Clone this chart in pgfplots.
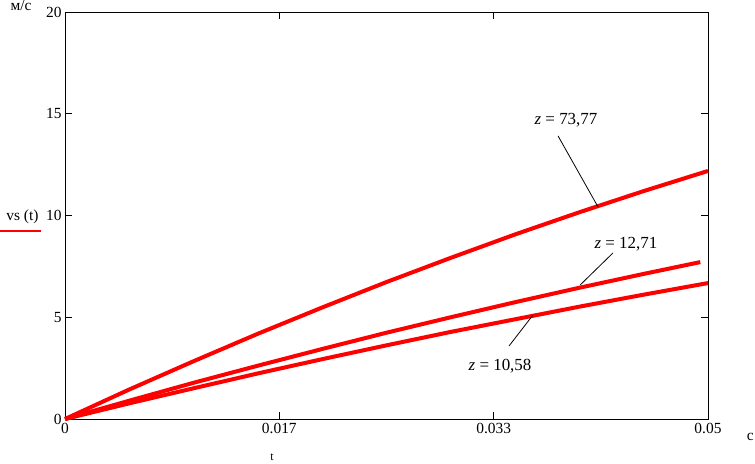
\documentclass[border=0pt]{standalone}
\usepackage{fontspec}
\setmainfont{Liberation Serif}
\usepackage{pgfplots}
\pgfplotsset{compat=1.18}
\usetikzlibrary{calc}

% speed curves vs(t) for three values of z
\pgfplotstableread{
t      v
0      0
0.005  1.45
0.010  2.84
0.015  4.19
0.020  5.48
0.025  6.73
0.030  7.92
0.035  9.07
0.040  10.16
0.045  11.20
0.050  12.19
}\zA
\pgfplotstableread{
t      v
0      0
0.005  0.90
0.010  1.78
0.015  2.62
0.020  3.44
0.025  4.24
0.030  5.00
0.035  5.74
0.040  6.45
0.045  7.13
0.0494 7.71
}\zB
\pgfplotstableread{
t      v
0      0
0.005  0.77
0.010  1.51
0.015  2.24
0.020  2.94
0.025  3.62
0.030  4.28
0.035  4.90
0.040  5.52
0.045  6.11
0.050  6.68
}\zC

\begin{document}
\begin{tikzpicture}
\begin{axis}[
  name=ax,
  scale only axis,
  width=643bp, height=407bp,
  xmin=0, xmax=0.05, ymin=0, ymax=20,
  xtick={0,0.0166667,0.0333333,0.05},
  xticklabels={0,0.017,0.033,0.05},
  ytick={0,5,10,15,20},
  tick align=inside,
  tick pos=both,
  major tick length=7bp,
  axis line style={line width=0.9pt},
  every tick/.style={black, line width=0.9pt},
  /pgf/number format/assume math mode=true,
  tick label style={font=\fontsize{15.5}{16}\selectfont},
  xticklabel style={yshift=-1bp},
  yticklabel style={xshift=0bp},
  scaled x ticks=false,
  clip=false,
]
  \addplot[red, line width=4bp] table[x=t, y=v] {\zA};
  \addplot[red, line width=4bp] table[x=t, y=v] {\zB};
  \addplot[red, line width=4bp] table[x=t, y=v] {\zC};

  \draw[black, line width=0.8pt] (axis cs:0.03834,13.91) -- (axis cs:0.04145,10.42);
  \draw[black, line width=0.8pt] (axis cs:0.04261,8.16) -- (axis cs:0.04005,6.58);
  \draw[black, line width=0.8pt] (axis cs:0.03453,3.59) -- (axis cs:0.03639,5.11);

  \node[font=\fontsize{17}{18}\selectfont] at (axis cs:0.03896,14.69) {\textit{z} = 73,77};
  \node[font=\fontsize{17}{18}\selectfont] at (axis cs:0.04362,8.60) {\textit{z} = 12,71};
  \node[font=\fontsize{17}{18}\selectfont] at (axis cs:0.03383,2.60) {\textit{z} = 10,58};
\end{axis}
% axis titles, Mathcad style
\node[font=\fontsize{15.5}{16}\selectfont, anchor=base] at ($(ax.north west)+(-44bp,1bp)$) {м/с};
\node[font=\fontsize{15.5}{16}\selectfont, anchor=base east] at ($(ax.south west)+(-23bp,198bp)$) {vs (t)};
\draw[red, line width=2.5bp] ($(ax.south west)+(-65bp,188bp)$) -- ++(41bp,0);
\node[font=\fontsize{15.5}{16}\selectfont, anchor=base east, inner sep=0pt] at ($(ax.south east)+(46bp,-21bp)$) {с};
\node[font=\fontsize{12}{13}\selectfont, anchor=base] at ($(ax.south west)+(207bp,-41bp)$) {t};
\pgfresetboundingbox
\path[use as bounding box] ($(ax.south west)+(-65bp,-45bp)$) rectangle ($(ax.north east)+(47bp,12bp)$);
\end{tikzpicture}
\end{document}
